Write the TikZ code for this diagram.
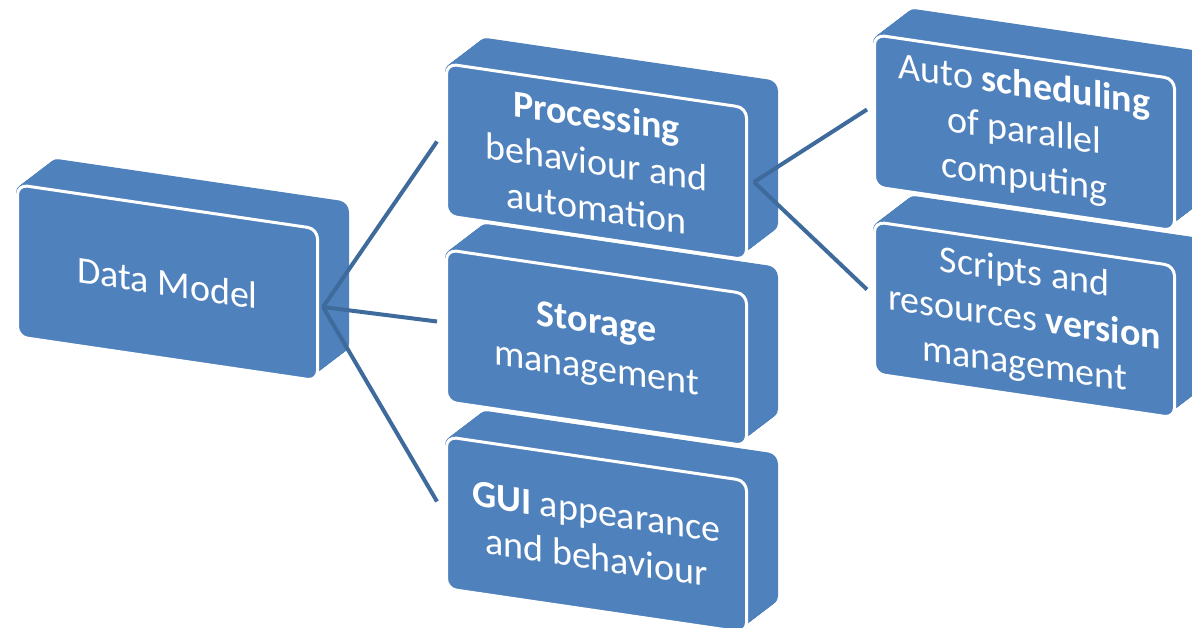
\documentclass[tikz,border=0pt]{standalone}
\usepackage{fontspec}
\setmainfont{Carlito}
\usetikzlibrary{calc}
\definecolor{boxblue}{HTML}{4F81BD}
\definecolor{linkblue}{HTML}{3E6A9C}
\tikzset{
  face/.style={draw=white, line width=3pt, fill=boxblue, rounded corners=10pt,
    minimum width=300pt, minimum height=152pt, inner sep=0pt, text=white,
    align=center, font=\fontsize{38}{46}\selectfont, transform shape,
    anchor=north west},
  body/.style={fill=boxblue, rounded corners=10pt},
  link/.style={draw=linkblue, line width=4pt},
}
% a slanted block: extruded back part swept behind a front face
\newcommand\extbox[4]{%
  \begin{scope}[shift={(#2,#3)}, yslant=-0.147]
    \foreach \t in {0,0.02,...,1.001}
      \fill[body] (\t*33,-\t*30) rectangle ++(300,152);
    \node[face] (#1) at (0,0) {#4};
  \end{scope}}
\begin{document}
\begin{tikzpicture}[x=1pt,y=-1pt]
  \useasboundingbox (0,0) rectangle (1192,628);
  \clip (0,0) rectangle (1192,628);

  \extbox{dm}{16}{183}{Data Model}
  \extbox{gui}{445}{435}{\textbf{GUI} appearance\\and behaviour}
  \extbox{stor}{445}{248}{\textbf{Storage}\\management}
  \extbox{proc}{445}{62}{\textbf{Processing}\\behaviour and\\automation}
  \extbox{scr}{873}{220}{Scripts and\\resources \textbf{version}\\management}
  \extbox{auto}{873}{33}{Auto \textbf{scheduling}\\of parallel\\computing}

  \coordinate (dmHub) at ($(dm.east)+(4,2)$);
  \coordinate (procHub) at ($(proc.east)+(6,-2)$);
  \draw[link] (dmHub) -- ($(proc.west)+(-8,2)$);
  \draw[link] (dmHub) -- ($(stor.west)+(-8,-4)$);
  \draw[link] (dmHub) -- ($(gui.west)+(-8,-11)$);
  \draw[link] (procHub) -- ($(auto.west)+(-6,-1)$);
  \draw[link] (procHub) -- ($(scr.west)+(-6,-8)$);
\end{tikzpicture}
\end{document}
